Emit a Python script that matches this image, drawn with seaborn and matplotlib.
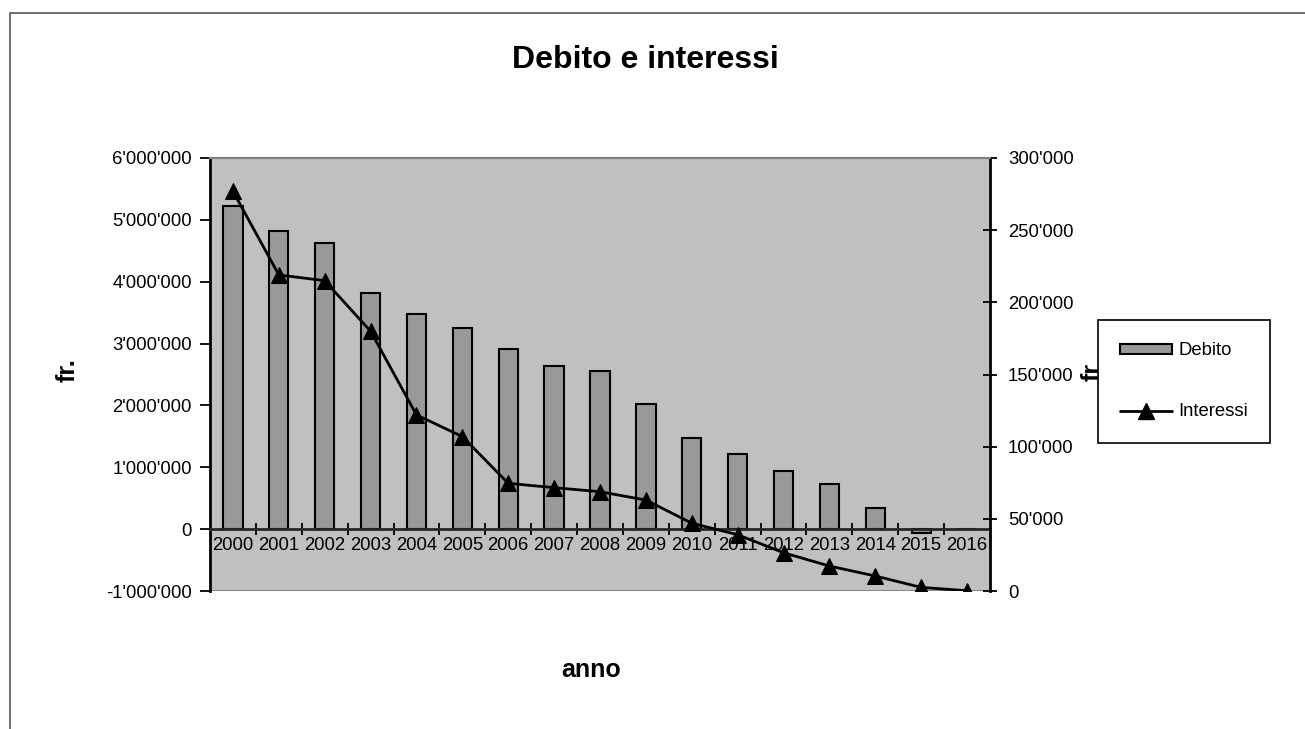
import numpy as np
import seaborn as sns
import matplotlib
matplotlib.use("Agg")
import matplotlib.pyplot as plt
from matplotlib.patches import Patch, Rectangle
from matplotlib.lines import Line2D
from matplotlib.ticker import FuncFormatter

anni = [str(a) for a in range(2000, 2017)]
debito = [5230000, 4820000, 4630000, 3810000, 3480000, 3250000, 2910000, 2640000,
          2560000, 2020000, 1470000, 1210000, 940000, 730000, 340000, -60000, 0]
interessi = [277000, 219000, 215000, 180000, 122000, 107000, 74600, 71600,
             68800, 63000, 47000, 39000, 26500, 17300, 10400, 2500, 200]

sns.set_style("white")
plt.rcParams['font.family'] = ['Liberation Sans', 'DejaVu Sans']
plt.rcParams['text.color'] = 'black'
plt.rcParams['xtick.color'] = 'black'
plt.rcParams['ytick.color'] = 'black'
plt.rcParams['axes.labelcolor'] = 'black'

fig = plt.figure(figsize=(13.05, 7.29), dpi=100)
ax = fig.add_axes([210 / 1305, 1 - 591 / 729, 780 / 1305, 433 / 729])
ax.set_facecolor('#C0C0C0')

sns.barplot(x=anni, y=debito, ax=ax, color='#999999', saturation=1, width=0.42,
            edgecolor='black', linewidth=1.5, zorder=2)

ax2 = ax.twinx()
sns.lineplot(x=np.arange(len(anni)), y=interessi, ax=ax2, color='black', linewidth=2,
             marker='^', markersize=11, markeredgecolor='black', zorder=3)

ax.set_xlim(-0.5, len(anni) - 0.5)
ax.set_ylim(-1000000, 6000000)
ax2.set_ylim(0, 300000)
ax.set_yticks(np.arange(-1000000, 6000001, 1000000))
ax2.set_yticks(np.arange(0, 300001, 50000))

fmt = FuncFormatter(lambda v, p: f"{int(round(v)):,}".replace(',', "'"))
ax.yaxis.set_major_formatter(fmt)
ax2.yaxis.set_major_formatter(fmt)

# asse x sulla linea dello zero
ax.spines['bottom'].set_position(('data', 0))
ax.spines['bottom'].set_linewidth(2)
ax.spines['bottom'].set_zorder(4)
ax.set_xticks(np.arange(len(anni)))
ax.set_xticklabels(anni)
ax.set_xticks(np.arange(0.5, len(anni) - 1), minor=True)
ax.tick_params(axis='x', which='major', length=0, pad=6, labelsize=13.3)
ax.tick_params(axis='x', which='minor', length=9, width=1.3, direction='inout', bottom=True)
ax.tick_params(axis='y', length=7, width=1.3, direction='out', labelsize=13.3, pad=6, left=True)
ax2.tick_params(axis='y', length=10, width=1.3, direction='inout', labelsize=13.3, pad=8, right=True)
ax.set_xlabel('')
ax.set_ylabel('')
ax2.set_ylabel('')

for a in (ax, ax2):
    a.spines['top'].set_color('#808080')
    a.spines['top'].set_linewidth(1.5)
ax.spines['left'].set_color('black')
ax.spines['left'].set_linewidth(2)
ax2.spines['right'].set_color('black')
ax2.spines['right'].set_linewidth(2)
ax2.spines['left'].set_visible(False)
ax2.spines['bottom'].set_visible(False)
ax.spines['right'].set_visible(False)
ax.add_line(Line2D([0, 1], [0, 0], transform=ax.transAxes, color='#808080', lw=2, zorder=1))

fig.text(645 / 1305, 1 - 60 / 729, 'Debito e interessi', ha='center', va='center',
         fontsize=23, fontweight='bold')
fig.text(591 / 1305, 1 - 670 / 729, 'anno', ha='center', va='center',
         fontsize=18, fontweight='bold')
fig.text(68 / 1305, 1 - 370 / 729, 'fr.', ha='center', va='center', rotation=90,
         fontsize=18, fontweight='bold')
fig.text(1093 / 1305, 1 - 372 / 729, 'fr', ha='center', va='center', rotation=90,
         fontsize=18, fontweight='bold')

handles = [Patch(facecolor='#999999', edgecolor='black', linewidth=1.5, label='Debito'),
           Line2D([], [], color='black', lw=2, marker='^', markersize=11, label='Interessi')]
leg = fig.legend(handles=handles, loc='upper left', bbox_to_anchor=(1098 / 1305, 1 - 320 / 729),
                 borderaxespad=0, fontsize=13.3, frameon=True, fancybox=False, framealpha=1,
                 edgecolor='black', handlelength=2.8, handleheight=0.45, handletextpad=0.35,
                 labelspacing=2.4, borderpad=1.2)
leg.get_frame().set_linewidth(1.2)
leg.set_zorder(10)

fig.patches.append(Rectangle((10 / 1305, -0.1), 1.2, 1.1 - 13 / 729, transform=fig.transFigure,
                             fill=False, edgecolor='#555555', linewidth=1.2))

fig.savefig('out.png', dpi=100)
